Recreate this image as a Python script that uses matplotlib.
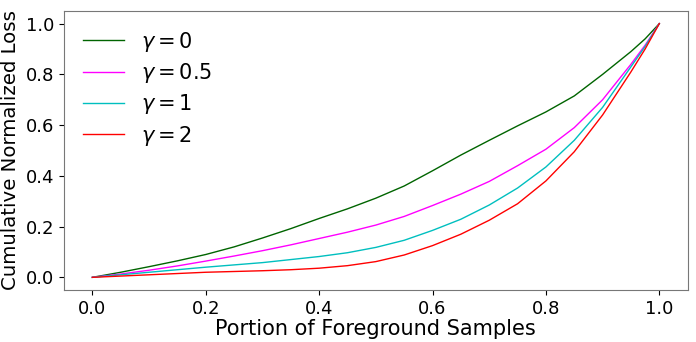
import matplotlib
matplotlib.use('Agg')
import matplotlib.pyplot as plt

portion = [0.0, 0.05, 0.1, 0.15, 0.2, 0.25, 0.3, 0.35, 0.4, 0.45, 0.5,
           0.55, 0.6, 0.65, 0.7, 0.75, 0.8, 0.85, 0.9, 0.95, 0.975, 1.0]

loss_g0 = [0.0, 0.02, 0.042, 0.065, 0.09, 0.12, 0.155, 0.192, 0.232, 0.27, 0.312,
           0.36, 0.42, 0.482, 0.54, 0.597, 0.652, 0.715, 0.8, 0.89, 0.94, 1.0]
loss_g05 = [0.0, 0.013, 0.028, 0.045, 0.064, 0.084, 0.105, 0.128, 0.153, 0.178, 0.206,
            0.24, 0.283, 0.328, 0.378, 0.44, 0.505, 0.59, 0.7, 0.84, 0.915, 1.0]
loss_g1 = [0.0, 0.01, 0.02, 0.03, 0.04, 0.049, 0.058, 0.07, 0.082, 0.097, 0.118,
           0.146, 0.185, 0.229, 0.285, 0.352, 0.435, 0.54, 0.67, 0.83, 0.91, 1.0]
loss_g2 = [0.0, 0.005, 0.01, 0.015, 0.02, 0.023, 0.026, 0.03, 0.036, 0.046, 0.062,
           0.088, 0.125, 0.17, 0.225, 0.29, 0.38, 0.495, 0.64, 0.81, 0.9, 1.0]

series = [(loss_g0, 'darkgreen', r'$\gamma = 0$'),
          (loss_g05, 'magenta', r'$\gamma = 0.5$'),
          (loss_g1, 'c', r'$\gamma = 1$'),
          (loss_g2, 'red', r'$\gamma = 2$')]

fig, ax = plt.subplots(figsize=(6.96, 3.42), dpi=100)

for vals, col, lab in series:
    ax.plot(portion, vals, color=col, linewidth=1.0, label=lab)

ax.set_xlabel('Portion of Foreground Samples', fontsize=15, labelpad=1)
ax.set_ylabel('Cumulative Normalized Loss', fontsize=14.2)
ax.set_xticks([0.0, 0.2, 0.4, 0.6, 0.8, 1.0])
ax.set_yticks([0.0, 0.2, 0.4, 0.6, 0.8, 1.0])
ax.tick_params(labelsize=13)
for s in ax.spines.values():
    s.set_color('#777777')

ax.legend(loc='upper left', fontsize=15, frameon=False, labelspacing=0.35)

fig.subplots_adjust(left=0.092, right=0.988, top=0.968, bottom=0.152)
fig.savefig('out.png', dpi=100)
